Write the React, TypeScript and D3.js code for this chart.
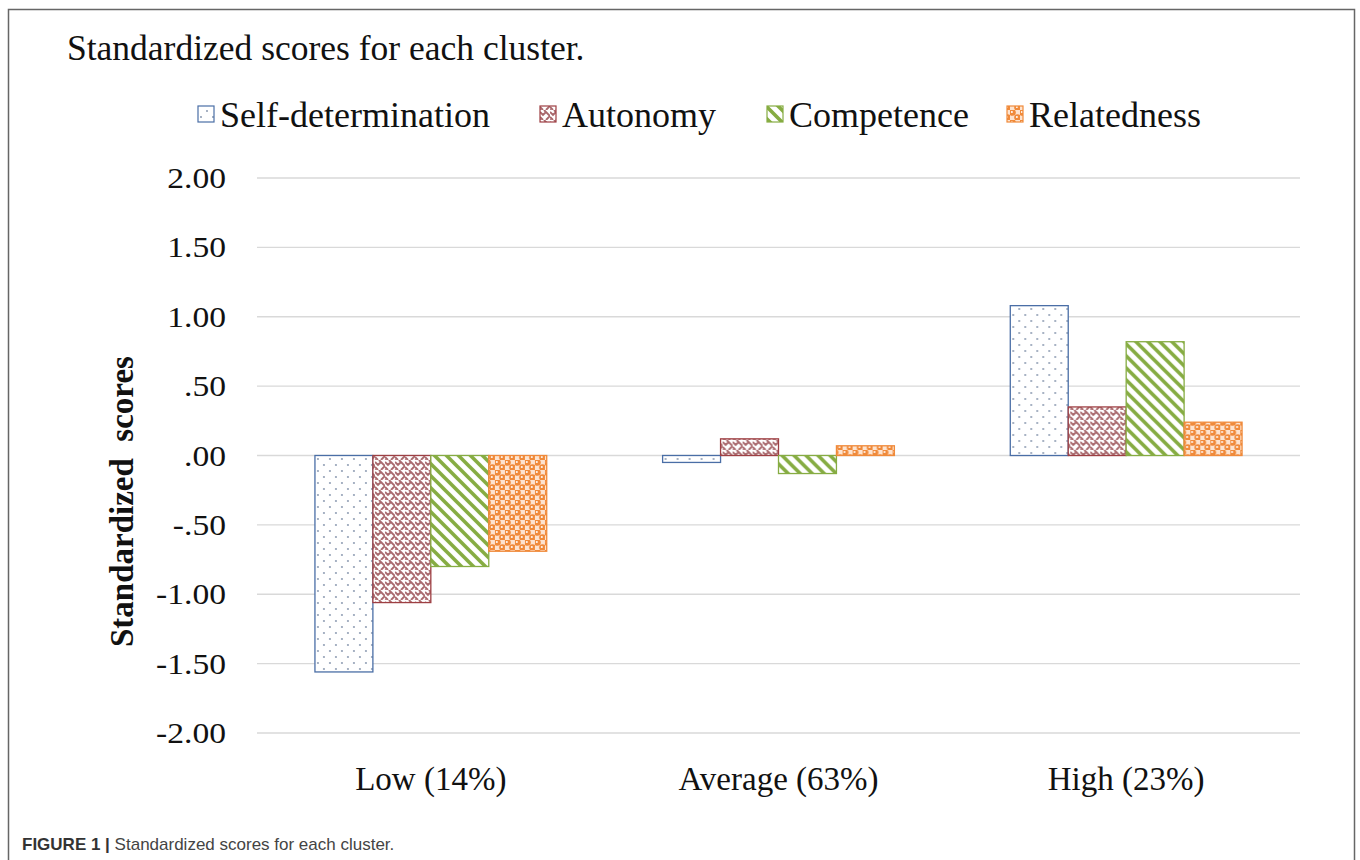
import React from "react";
import * as d3 from "d3";

const clusters = ["Low (14%)", "Average (63%)", "High (23%)"];
const seriesNames = ["Self-determination", "Autonomy", "Competence", "Relatedness"];
const selfDetermination = [-1.56, -0.05, 1.08];
const autonomy = [-1.06, 0.12, 0.35];
const competence = [-0.8, -0.13, 0.82];
const relatedness = [-0.69, 0.07, 0.24];
const tickValues = [2, 1.5, 1, 0.5, 0, -0.5, -1, -1.5, -2];
const tickLabels = ["2.00", "1.50", "1.00", ".50", ".00", "-.50", "-1.00", "-1.50", "-2.00"];

const seriesValues = [selfDetermination, autonomy, competence, relatedness];
const strokes = ["#4a6ea6", "#9e3f43", "#86ac42", "#f08a3a"];
const patternIds = ["pSelf", "pAuto", "pComp", "pRel"];

const serif = "'Liberation Serif', 'Times New Roman', serif";
const sans = "'Liberation Sans', Arial, sans-serif";

export default function App() {
  const W = 1360, H = 860;
  const y = d3.scaleLinear().domain([-2, 2]).range([733, 178]);
  const x0 = d3.scaleBand<string>().domain(clusters).range([257, 1300]).paddingInner(1 / 3).paddingOuter(1 / 6);
  const x1 = d3.scaleBand<string>().domain(seriesNames).range([0, x0.bandwidth()]).padding(0);

  const legendX = [198, 540, 767, 1007];

  return (
    <div style={{ position: "fixed", left: 0, top: 0, width: W, height: H, background: "#fff" }}>
      <svg width={W} height={H} style={{ display: "block" }}>
        <defs>
          <pattern id="pSelf" patternUnits="userSpaceOnUse" width="12" height="12">
            <rect width="12" height="12" fill="#fff" />
            <circle cx="3" cy="3" r="0.9" fill="#7d8ea8" />
            <circle cx="9" cy="9" r="0.9" fill="#7d8ea8" />
          </pattern>
          <pattern id="pAuto" patternUnits="userSpaceOnUse" width="10" height="10">
            <rect width="10" height="10" fill="#fff" />
            <path d="M0,2 L3,5 L6,2 M4,0 L10,6 M6,10 L10,6 M0,7 L3,10 M-1,9 L1,11" stroke="#a8686c" strokeWidth="1.9" fill="none" />
          </pattern>
          <pattern id="pComp" patternUnits="userSpaceOnUse" width="12" height="12">
            <rect width="12" height="12" fill="#fff" />
            <path d="M-3,-3 L15,15 M-9,3 L3,15 M3,-9 L15,3" stroke="#86ac42" strokeWidth="3.6" />
          </pattern>
          <pattern id="pRel" patternUnits="userSpaceOnUse" width="10" height="10">
            <rect width="10" height="10" fill="#fde3cf" />
            <circle cx="2.5" cy="2.5" r="3.3" fill="#f08a3a" />
            <circle cx="7.5" cy="7.5" r="3.3" fill="#f08a3a" />
            <circle cx="1.9" cy="1.9" r="1.0" fill="#fff" />
            <circle cx="6.9" cy="6.9" r="1.0" fill="#fff" />
          </pattern>
        </defs>

        <rect x={8.5} y={9.5} width={1346} height={870} fill="none" stroke="#666" strokeWidth={1.5} />

        <text x={67} y={60} fontFamily={serif} fontSize={35.5} fill="#111">Standardized scores for each cluster.</text>

        {seriesNames.map((s, i) => (
          <g key={s}>
            <rect x={legendX[i]} y={106} width={16} height={16} fill={`url(#${patternIds[i]})`} stroke={strokes[i]} strokeWidth={1.2} />
            <text x={legendX[i] + 22} y={127} fontFamily={serif} fontSize={36} fill="#111">{s}</text>
          </g>
        ))}

        {tickValues.map((t, i) => (
          <g key={t}>
            <line x1={257} x2={1300} y1={y(t)} y2={y(t)} stroke="#d9d9d9" strokeWidth={1.3} />
            <text
              transform={`translate(226,${y(t) + 10}) scale(1.12,1)`}
              textAnchor="end"
              fontFamily={serif}
              fontSize={30}
              fill="#111"
            >
              {tickLabels[i]}
            </text>
          </g>
        ))}

        <text
          transform={`translate(133,647) rotate(-90)`}
          textAnchor="start"
          fontFamily={serif}
          fontWeight="bold"
          fontSize={33}
          fill="#111"
          style={{ whiteSpace: "pre" }}
        >
          {"Standardized  scores"}
        </text>

        {clusters.map((c, ci) => (
          <g key={c} transform={`translate(${x0(c)},0)`}>
            {seriesNames.map((s, si) => {
              const v = seriesValues[si][ci];
              const top = y(Math.max(0, v));
              const bot = y(Math.min(0, v));
              return (
                <rect
                  key={s}
                  x={x1(s)!}
                  y={top}
                  width={x1.bandwidth()}
                  height={bot - top}
                  fill={`url(#${patternIds[si]})`}
                  stroke={strokes[si]}
                  strokeWidth={1.3}
                />
              );
            })}
            <text x={x0.bandwidth() / 2} y={790} textAnchor="middle" fontFamily={serif} fontSize={33} fill="#111">{c}</text>
          </g>
        ))}

        <text x={22} y={850} fontFamily={sans} fontSize={17} fill="#333">
          <tspan fontWeight="bold">FIGURE 1 | </tspan>
          <tspan fill="#444">Standardized scores for each cluster.</tspan>
        </text>
      </svg>
    </div>
  );
}
